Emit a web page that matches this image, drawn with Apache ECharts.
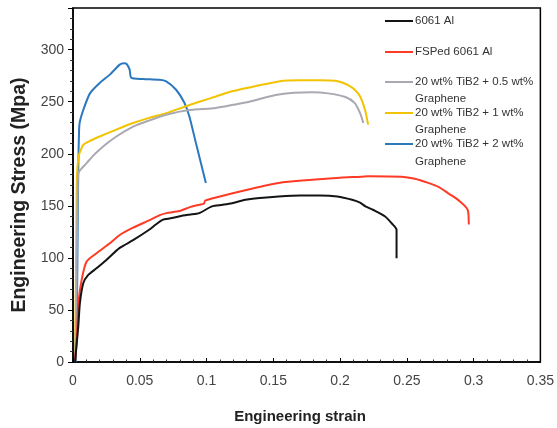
<!DOCTYPE html>
<html>
<head>
<meta charset="utf-8">
<script src="https://cdn.jsdelivr.net/npm/echarts@6/dist/echarts.min.js"></script>
<style>
html,body{margin:0;padding:0;background:#fff;}
#c{width:557px;height:428px;}
</style>
</head>
<body>
<div id="c"></div>
<script>
// ---- data ----
const seriesNames = ['6061 Al', 'FSPed 6061 Al', '20 wt% TiB2 + 0.5 wt% Graphene', '20 wt% TiB2 + 1 wt% Graphene', '20 wt% TiB2 + 2 wt% Graphene'];

const alStrain = [0.0015,0.004,0.0052,0.0077,0.0114,0.0176,0.025,0.035,0.045,0.057,0.062,0.067,0.073,0.080,0.087,0.0946,0.104,0.112,0.119,0.129,0.140,0.154,0.170,0.185,0.198,0.209,0.215,0.219,0.225,0.2335,0.2395,0.2423,0.2423];
const alStress = [0,35,57,75.6,83.6,90,98,109.6,117,127,132,136.5,138,140,141.5,143,149.5,151,152.5,155.8,157.5,159,160,160,159,155.8,153,149.5,146,140,132,127,99.7];

const fspStrain = [0.0015,0.003,0.004,0.0065,0.0102,0.0176,0.0276,0.035,0.045,0.057,0.065,0.070,0.0797,0.088,0.0946,0.098,0.099,0.110,0.129,0.154,0.179,0.200,0.216,0.221,0.246,0.256,0.266,0.274,0.281,0.289,0.2956,0.2964];
const fspStress = [0,25,56,79,96.5,104.5,114,122,129,136,141,143,145,149,151,152,155,159,165,172,175,177,178,178.5,178,176,172,168,162,155,146,132];

const g05Strain = [0.0015,0.0025,0.003,0.0035,0.004,0.0065,0.0102,0.015,0.020,0.026,0.0325,0.045,0.057,0.0698,0.087,0.107,0.120,0.132,0.154,0.179,0.191,0.204,0.211,0.215,0.2174];
const g05Stress = [0,60,120,165,181.5,186,191,198,204,210.5,216.6,226,232,237.5,242,244,247,250,257,259,258,254.5,248.7,239,229.5];

const g1Strain = [0.0015,0.002,0.0025,0.003,0.004,0.005,0.0077,0.012,0.020,0.032,0.045,0.057,0.0698,0.082,0.0946,0.107,0.119,0.137,0.154,0.170,0.184,0.199,0.206,0.211,0.215,0.2187,0.221];
const g1Stress = [0,60,130,180,196,201,208.6,212,216.6,223,229.5,234.5,239,244.5,250,255,260,265,269.5,270.5,270.5,269.5,266,261.5,255,242,228];

const g2Strain = [0.002,0.003,0.0035,0.004,0.0045,0.005,0.0077,0.0127,0.020,0.0276,0.035,0.038,0.040,0.0424,0.0437,0.0524,0.0648,0.0698,0.0772,0.0834,0.0871,0.0921,0.0995];
const g2Stress = [0,60,130,190,220,230,242,258,268,276,285.6,287,286.5,280.8,272.8,271.8,271,269.5,261.5,249,236,210,172];

const xTicks = [0, 0.05, 0.1, 0.15, 0.2, 0.25, 0.3, 0.35];
const yTicks = [0, 50, 100, 150, 200, 250, 300];

// ---- styling ----
const colors = ['#141414', '#ff3b26', '#a9a8b3', '#f2c300', '#2c78bf'];
const strains = [alStrain, fspStrain, g05Strain, g1Strain, g2Strain];
const stresses = [alStress, fspStress, g05Stress, g1Stress, g2Stress];
const legendCenters = [21, 52, 82, 113, 144];

function zip(a, b) { return a.map((v, i) => [v, b[i]]); }

const series = seriesNames.map((n, i) => ({
  name: n,
  type: 'line',
  data: zip(strains[i], stresses[i]),
  showSymbol: false,
  symbol: 'none',
  smooth: 0.25,
  lineStyle: { color: colors[i], width: 2 },
  itemStyle: { color: colors[i] },
  z: 10 - i,
  animation: false
}));

const legends = seriesNames.map((n, i) => ({
  data: [n],
  orient: 'vertical',
  left: 385,
  top: legendCenters[i] - 7,
  padding: 0,
  icon: 'rect',
  itemWidth: 28,
  itemHeight: 2,
  selectedMode: false,
  formatter: (name) => name.replace(' Graphene', ''),
  textStyle: { fontFamily: 'Liberation Sans, Arial, sans-serif', fontSize: 11.5, color: '#333', lineHeight: 14, padding: [0, 0, 0, -3] }
}));

const grapheneY = [99, 130, 162];

const chart = echarts.init(document.getElementById('c'), null, { renderer: 'canvas' });
chart.setOption({
  backgroundColor: '#fff',
  animation: false,
  color: colors,
  grid: { left: 73, right: 14.5, top: 8, bottom: 66, show: true, borderColor: '#000', borderWidth: 1.5, backgroundColor: 'transparent' },
  xAxis: {
    type: 'value', min: xTicks[0], max: xTicks[xTicks.length - 1], interval: 0.05,
    axisLine: { show: true, lineStyle: { color: '#000', width: 1.5 } },
    axisTick: { show: true, inside: true, length: 4, lineStyle: { color: '#000' } },
    minorTick: { show: true, splitNumber: 5, length: 2.5, lineStyle: { color: '#333' } },
    splitLine: { show: false },
    axisLabel: { fontFamily: 'Liberation Sans, Arial, sans-serif', fontSize: 14, color: '#444', margin: 12,
      formatter: (v) => String(+v.toFixed(2)) }
  },
  yAxis: {
    type: 'value', min: yTicks[0], max: 340, interval: 50,
    axisLine: { show: true, lineStyle: { color: '#000', width: 1.5 } },
    axisTick: { show: true, inside: false, length: 5, lineStyle: { color: '#000' } },
    minorTick: { show: true, splitNumber: 5, length: 3, lineStyle: { color: '#333' } },
    splitLine: { show: false },
    axisLabel: { fontFamily: 'Liberation Sans, Arial, sans-serif', fontSize: 14, color: '#444', margin: 9, showMaxLabel: false,
      formatter: (v) => yTicks.indexOf(v) >= 0 ? String(v) : '' }
  },
  legend: legends,
  graphic: [
    { type: 'text', x: 20, y: 195, rotation: Math.PI / 2,
      style: { text: 'Engineering Stress (Mpa)', fontFamily: 'Liberation Sans, Arial, sans-serif', fontWeight: 'bold', fontSize: 19.5, fill: '#222', align: 'center', verticalAlign: 'middle' } },
    { type: 'text', x: 300, y: 417,
      style: { text: 'Engineering strain', fontFamily: 'Liberation Sans, Arial, sans-serif', fontWeight: 'bold', fontSize: 15, fill: '#222', align: 'center', verticalAlign: 'middle' } }
  ].concat(grapheneY.map(y => ({
    type: 'text', x: 415, y: y,
    style: { text: 'Graphene', fontFamily: 'Liberation Sans, Arial, sans-serif', fontSize: 11.5, fill: '#333', align: 'left', verticalAlign: 'middle' }
  }))),
  series: series
});
</script>
</body>
</html>
